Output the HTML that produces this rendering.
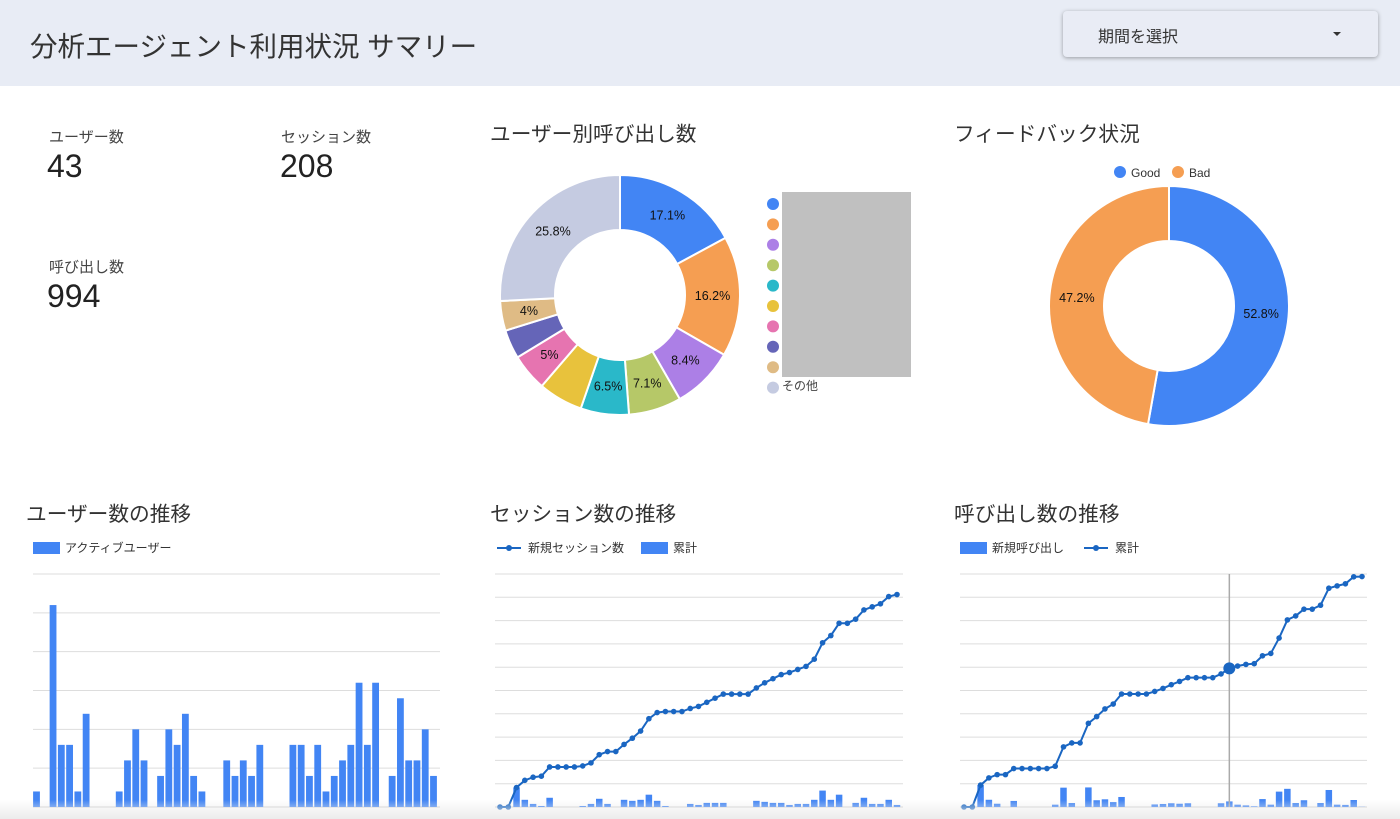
<!DOCTYPE html>
<html><head><meta charset="utf-8">
<style>
body{margin:0;width:1400px;height:819px;overflow:hidden;background:#fff;font-family:"Liberation Sans","Noto Sans CJK JP",sans-serif;position:relative}
.hdr{position:absolute;left:0;top:0;width:1400px;height:86px;background:#e8ecf5}
.ttl{position:absolute;left:30px;top:24px;font-size:27.5px;color:#333}
.dd{position:absolute;left:1063px;top:11px;width:315px;height:46px;background:#e9ecf5;border-radius:4px;box-shadow:0 1px 4px rgba(0,0,0,.35)}
.dd span{position:absolute;left:35px;top:12px;font-size:16px;color:#333}
.dd i{position:absolute;left:270px;top:21px;border:4px solid transparent;border-top:4px solid #333;border-bottom:0}
.lab{position:absolute;font-size:15px;color:#444}
.num{position:absolute;font-size:32px;color:#222}
.sec{position:absolute;font-size:20.7px;color:#333}
svg{position:absolute;left:0;top:0}
.fade{position:absolute;left:0;top:800px;width:1400px;height:19px;background:linear-gradient(#fff0,#ececec)}
</style></head><body>
<div class="hdr"></div>
<div class="ttl">分析エージェント利用状況 サマリー</div>
<div class="dd"><span>期間を選択</span><i></i></div>
<div class="lab" style="left:49px;top:126px">ユーザー数</div>
<div class="num" style="left:47px;top:148px">43</div>
<div class="lab" style="left:281px;top:126px">セッション数</div>
<div class="num" style="left:280px;top:148px">208</div>
<div class="lab" style="left:49px;top:256px">呼び出し数</div>
<div class="num" style="left:47px;top:278px">994</div>
<div class="sec" style="left:490px;top:117px">ユーザー別呼び出し数</div>
<div class="sec" style="left:954px;top:117px">フィードバック状況</div>
<div class="sec" style="left:26px;top:497px">ユーザー数の推移</div>
<div class="sec" style="left:490px;top:497px">セッション数の推移</div>
<div class="sec" style="left:954px;top:497px">呼び出し数の推移</div>
<svg id="svg" width="1400" height="819" font-family="Liberation Sans, Noto Sans CJK JP, sans-serif"></svg>
<div class="fade"></div>
<script>
const pieValues=[17.1,16.2,8.4,7.1,6.5,6.0,5.0,3.9,4.0,25.8];
const pieColors=["#4285f4","#f59e52","#ac7fe6","#b6c868","#2ab8c9","#e8c23c","#e674b0","#6565b8","#dfbb85","#c5cbe1"];
const pieLabels=["17.1%","16.2%","8.4%","7.1%","6.5%","","5%","","4%","25.8%"];
const fbValues=[52.8,47.2];
const fbLabels=["Good","Bad"];
const users=[1,0,13,4,4,1,6,0,0,0,1,3,5,3,0,2,5,4,6,2,1,0,0,3,2,3,2,4,0,0,0,4,4,2,4,1,2,3,4,8,4,8,0,2,7,3,3,5,2];
const newSessions=[0,0,19,7,3,1,9,0,0,0,1,3,8,3,0,7,6,7,12,6,1,0,0,3,2,4,4,4,0,0,0,6,5,4,4,2,3,3,7,16,7,12,0,4,9,3,3,7,2];
const newCalls=[0,0,94,31,14,0,26,0,0,0,0,10,83,17,0,84,29,33,21,43,0,0,0,11,13,16,14,16,0,0,0,16,24,10,7,3,34,10,66,78,17,29,0,17,73,10,9,30,1];
const usersMax=15, sessMax=227, callsMax=1000, hoverIndex=32;
const NS="http://www.w3.org/2000/svg";
const svg=document.getElementById('svg');
function mk(t,a,p){const e=document.createElementNS(NS,t);for(const k in a)e.setAttribute(k,a[k]);(p||svg).appendChild(e);return e;}
function donut(cx,cy,R,r,vals,cols,labs,nm){
  const tot=vals.reduce((a,b)=>a+b,0);let a0=0;
  vals.forEach((v,i)=>{const a1=a0+v/tot*2*Math.PI;
    const p=(a,rr)=>[cx+rr*Math.sin(a),cy-rr*Math.cos(a)];
    const [x0,y0]=p(a0,R),[x1,y1]=p(a1,R),[x2,y2]=p(a1,r),[x3,y3]=p(a0,r);const lg=(a1-a0)>Math.PI?1:0;
    const s=mk('path',{d:`M${x0},${y0}A${R},${R} 0 ${lg} 1 ${x1},${y1}L${x2},${y2}A${r},${r} 0 ${lg} 0 ${x3},${y3}Z`,fill:cols[i],stroke:'#fff','stroke-width':2});
    
    
    if(labs[i]){const [tx,ty]=p((a0+a1)/2,(R+r)/2);const t=mk('text',{x:tx,y:ty+4,'text-anchor':'middle','font-size':12.5,fill:'#111'});t.textContent=labs[i];
      
      }
    a0=a1;});
}
donut(620,295,120,65,pieValues,pieColors,pieLabels,'user-calls');
pieColors.forEach((c,i)=>{const d=mk('circle',{cx:773,cy:204+20.4*i,r:6,fill:c});
  
  });
const gr=mk('rect',{x:782,y:192,width:129,height:185,fill:'#c0c0c0'});


const ot=mk('text',{x:782,y:390,'font-size':12,fill:'#444'});ot.textContent='その他';


donut(1169,306,120,65,fbValues,["#4285f4","#f59e52"],fbValues.map(v=>v+'%'),'feedback');
[[1120,"#4285f4",fbLabels[0]],[1178,"#f59e52",fbLabels[1]]].forEach(([x,c,l])=>{const d=mk('circle',{cx:x,cy:172,r:6,fill:c});
  
  
  const t=mk('text',{x:x+11,y:177,'font-size':12,fill:'#333'});t.textContent=l;
  
  });
function grid(x0,x1,top,bot,n,nm){for(let k=0;k<=n;k++){const y=bot-(bot-top)*k/n;const l=mk('line',{x1:x0,x2:x1,y1:y,y2:y,stroke:k?'#ddd':'#ccc','stroke-width':1});
  
  }}
function bars(vals,x0,x1,top,bot,max,w,nm){const n=vals.length,st=(x1-x0)/(n-1);
  vals.forEach((v,i)=>{if(!v)return;const h=v/max*(bot-top);const b=mk('rect',{x:x0+i*st-w/2,y:bot-h,width:w,height:h,fill:'#4285f4'});
    
    });}
function cumLine(vals,x0,x1,top,bot,max,nm){const n=vals.length,st=(x1-x0)/(n-1);let c=0;const pts=vals.map((v,i)=>{c+=v;return [x0+i*st,bot-c/max*(bot-top)];});
  const pl=mk('polyline',{points:pts.map(p=>p.join(',')).join(' '),fill:'none',stroke:'#1a66c2','stroke-width':2});
  
  
  pts.forEach(p=>{const d=mk('circle',{cx:p[0],cy:p[1],r:2.8,fill:'#1a66c2'});
    
    });return pts;}
function legRect(x,y,label,nm){const r=mk('rect',{x:x,y:y-6,width:27,height:12,fill:'#4285f4'});
  
  
  const t=mk('text',{x:x+32,y:y+4,'font-size':12,fill:'#333'});t.textContent=label;
  
  }
function legLine(x,y,label,nm){const l=mk('line',{x1:x,x2:x+24,y1:y,y2:y,stroke:'#1a66c2','stroke-width':2});
  
  
  mk('circle',{cx:x+12,cy:y,r:3,fill:'#1a66c2'});
  const t=mk('text',{x:x+31,y:y+4,'font-size':12,fill:'#333'});t.textContent=label;
  
  }
grid(33,440,574,807,6,'users');
bars(users,36.5,433.5,574,807,usersMax,6.8,'users');
legRect(33,548,'アクティブユーザー','users');
grid(495,903,574,807,10,'sessions');
bars(newSessions,500,897,574,807,sessMax,6.5,'sessions');
cumLine(newSessions,500,897,574,807,sessMax,'sessions');
legLine(497,548,'新規セッション数','sessions');legRect(641,548,'累計','sessions');
grid(960,1367,574,807,10,'calls');
bars(newCalls,964,1362,574,807,callsMax,6.5,'calls');
const hx=964+hoverIndex*(1362-964)/(newCalls.length-1);
const hl=mk('line',{x1:hx,x2:hx,y1:574,y2:807,stroke:'#aaa','stroke-width':1.5});


const cp=cumLine(newCalls,964,1362,574,807,callsMax,'calls');
const hd=mk('circle',{cx:cp[hoverIndex][0],cy:cp[hoverIndex][1],r:6,fill:'#1a66c2'});


legRect(960,548,'新規呼び出し','calls');legLine(1084,548,'累計','calls');
</script>
</body></html>
